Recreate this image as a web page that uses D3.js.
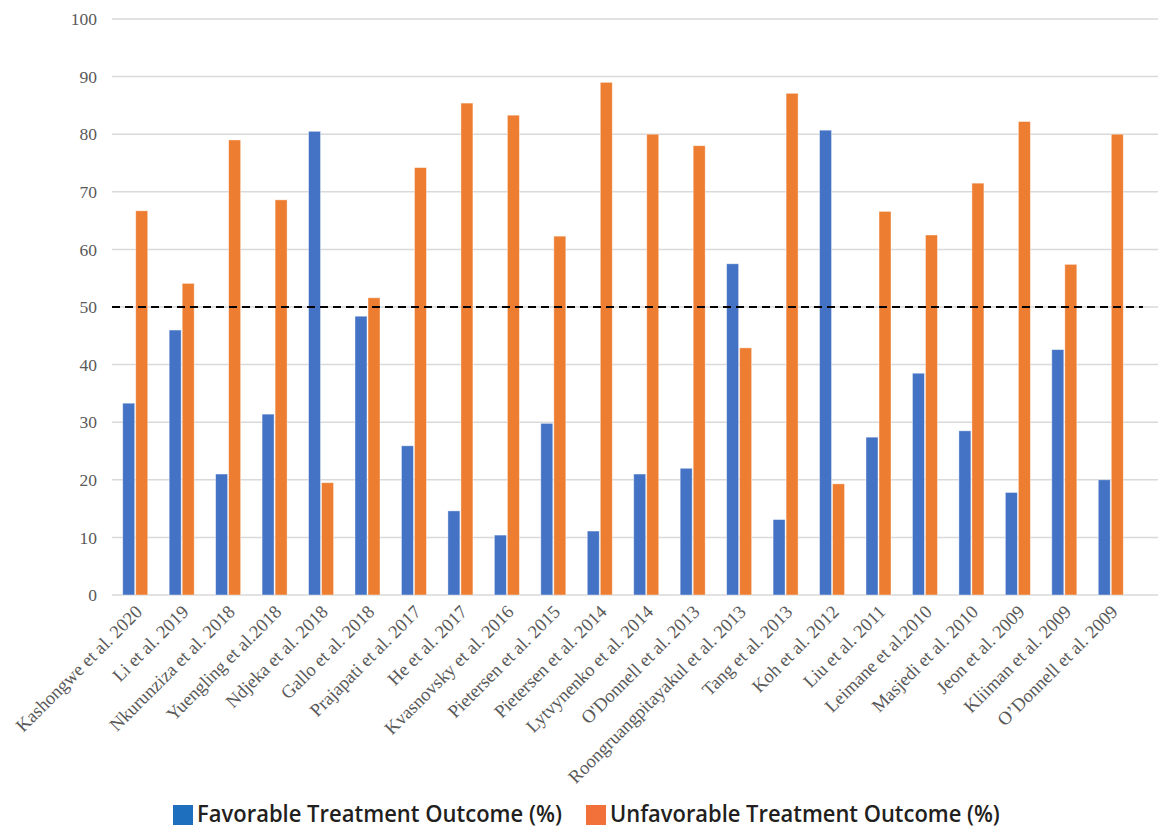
<!DOCTYPE html>
<html>
<head>
<meta charset="utf-8">
<script src="https://cdn.jsdelivr.net/npm/d3@7"></script>
<style>
  html, body { margin: 0; padding: 0; background: #ffffff; }
  svg { display: block; }
</style>
</head>
<body>
<svg id="chart" width="1158" height="829"></svg>
<script>
const categories = [
  "Kashongwe et al. 2020", "Li  et al. 2019", "Nkurunziza et al. 2018", "Yuengling et al.2018",
  "Ndjeka et al. 2018", "Gallo et al. 2018", "Prajapati et al. 2017", "He et al. 2017",
  "Kvasnovsky  et al. 2016", "Pietersen et al. 2015", "Pietersen et al. 2014", "Lytvynenko et al. 2014",
  "O'Donnell et al. 2013", "Roongruangpitayakul et al. 2013", "Tang et al. 2013", "Koh et al.  2012",
  "Liu et al. 2011", "Leimane et al.2010", "Masjedi et al. 2010", "Jeon et al. 2009",
  "Kliiman et al. 2009", "O’Donnell et al. 2009"
];
const favorable = [33.3, 46.0, 21.0, 31.4, 80.5, 48.4, 25.9, 14.6, 10.4, 29.8, 11.1, 21.0,
                   22.0, 57.5, 13.1, 80.7, 27.4, 38.5, 28.5, 17.8, 42.6, 20.0];
const unfavorable = [66.7, 54.1, 79.0, 68.6, 19.5, 51.6, 74.2, 85.4, 83.3, 62.3, 89.0, 80.0,
                     78.0, 42.9, 87.1, 19.3, 66.6, 62.5, 71.5, 82.2, 57.4, 80.0];
const seriesNames = ["Favorable Treatment Outcome (%)", "Unfavorable Treatment Outcome (%)"];
const yTicks = [0, 10, 20, 30, 40, 50, 60, 70, 80, 90, 100];
const threshold = 50;

(function () {
const barColors = ["#4472C4", "#ED7D31"];
const legendColors = ["#1F6FBF", "#F2703A"];

const svg = d3.select("#chart");
const pL = 112, pR = 1134, pT = 19, pB = 595;

const x = d3.scaleBand().domain(categories).range([pL, pR]).paddingInner(0).paddingOuter(0);
const sub = d3.scaleBand().domain([0, 1]).range([x.bandwidth() / 2 - 12.5, x.bandwidth() / 2 + 12.5]).paddingInner(0.08);
const y = d3.scaleLinear().domain([0, 100]).range([pB, pT]);

// gridlines
svg.append("g").selectAll("line").data(yTicks).join("line")
  .attr("x1", pL).attr("x2", 1158)
  .attr("y1", d => y(d)).attr("y2", d => y(d))
  .attr("stroke", "#d9d9d9").attr("stroke-width", 1.5);

// y axis labels
const yAxis = d3.axisLeft(y).tickValues(yTicks).tickSize(0).tickPadding(0);
const gy = svg.append("g").attr("transform", `translate(97,0)`).call(yAxis);
gy.select(".domain").remove();
gy.selectAll("text")
  .attr("font-family", "'Liberation Serif', 'Times New Roman', serif")
  .attr("font-size", 17.5).attr("fill", "#595959");

// bars
const data = categories.map((c, i) => ({ c, vals: [favorable[i], unfavorable[i]] }));
const groups = svg.append("g").selectAll("g").data(data).join("g")
  .attr("transform", d => `translate(${x(d.c)},0)`);
groups.selectAll("rect").data(d => d.vals.map((v, k) => ({ v, k }))).join("rect")
  .attr("x", d => sub(d.k))
  .attr("width", sub.bandwidth())
  .attr("y", d => y(d.v))
  .attr("height", d => y(0) - y(d.v))
  .attr("fill", d => barColors[d.k])
  .attr("stroke", "#ffffff").attr("stroke-opacity", 0.5).attr("stroke-width", 0.8);

// threshold dashed line
svg.append("line")
  .attr("x1", pL).attr("x2", 1143)
  .attr("y1", y(threshold)).attr("y2", y(threshold))
  .attr("stroke", "#000000").attr("stroke-width", 2)
  .attr("stroke-dasharray", "8,5");

// x axis labels
const xAxis = d3.axisBottom(x).tickSize(0).tickPadding(0);
const gx = svg.append("g").attr("transform", `translate(0,${pB})`).call(xAxis);
gx.select(".domain").remove();
gx.selectAll(".tick text")
  .attr("font-family", "'Liberation Serif', 'Times New Roman', serif")
  .attr("font-size", 18.5).attr("fill", "#595959")
  .attr("text-anchor", "end")
  .attr("dy", 0).attr("y", 0)
  .attr("transform", "translate(8,18) rotate(-45)");

// legend
const legendItems = [
  { name: seriesNames[0], color: legendColors[0], sx: 173, tx: 197, w: 365 },
  { name: seriesNames[1], color: legendColors[1], sx: 586, tx: 610, w: 390 }
];
const lg = svg.append("g");
legendItems.forEach(it => {
  lg.append("rect").attr("x", it.sx).attr("y", 805).attr("width", 20).attr("height", 20).attr("fill", it.color);
  const g = lg.append("g");
  const t = g.append("text").attr("x", 0).attr("y", 0)
    .attr("font-family", "'Open Sans', sans-serif").attr("font-weight", 600)
    .attr("font-size", 23).attr("fill", "#231F20")
    .text(it.name);
  const natural = t.node().getComputedTextLength();
  g.attr("transform", `translate(${it.tx},822) scale(${it.w / natural},1)`);
});
})();
</script>
</body>
</html>
